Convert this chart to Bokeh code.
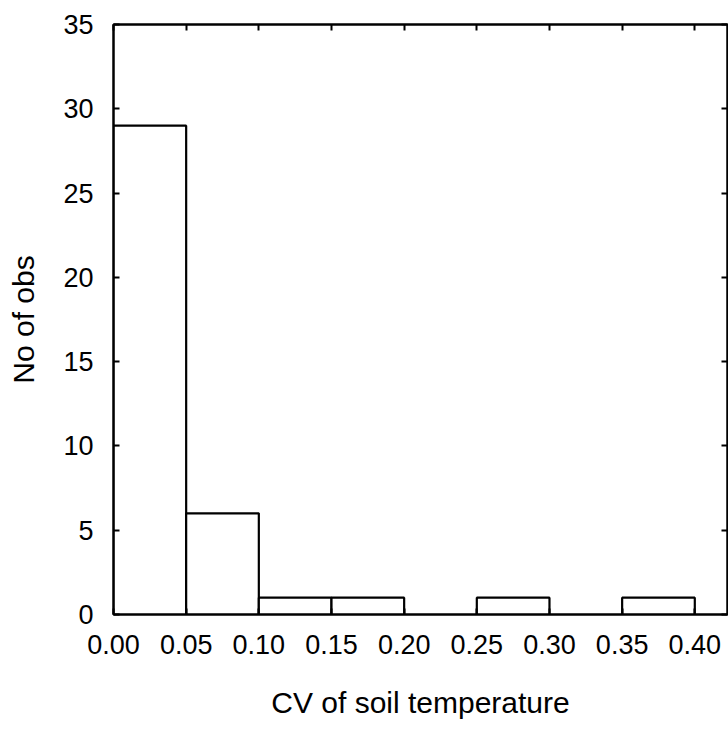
from bokeh.plotting import figure
from bokeh.models import Range1d, FixedTicker, PrintfTickFormatter, LinearAxis, ColumnDataSource
from bokeh.embed import file_html
from bokeh.resources import INLINE

bin_left = [0.00, 0.05, 0.10, 0.15, 0.20, 0.25, 0.30, 0.35]
bin_right = [0.05, 0.10, 0.15, 0.20, 0.25, 0.30, 0.35, 0.40]
counts = [29, 6, 1, 1, 0, 1, 0, 1]
x_ticks = [0.00, 0.05, 0.10, 0.15, 0.20, 0.25, 0.30, 0.35, 0.40]
y_ticks = [0, 5, 10, 15, 20, 25, 30, 35]

FONT = "Liberation Sans"

p = figure(width=728, height=729, output_backend="svg", toolbar_location=None,
           x_range=Range1d(0, 0.4225), y_range=Range1d(0, 35),
           min_border_left=113, min_border_right=1, min_border_top=24, min_border_bottom=115,
           x_axis_label="CV of soil temperature", y_axis_label="No of obs")

src = ColumnDataSource(dict(left=[l for l, c in zip(bin_left, counts) if c > 0],
                            right=[r for r, c in zip(bin_right, counts) if c > 0],
                            top=[c for c in counts if c > 0]))
p.quad(left="left", right="right", bottom=0, top="top", source=src,
       fill_color="white", line_color="black", line_width=2.2)

p.xgrid.visible = False
p.ygrid.visible = False
p.outline_line_color = "black"
p.outline_line_width = 2
p.background_fill_color = "white"
p.border_fill_color = "white"

for ax in p.xaxis:
    ax.ticker = FixedTicker(ticks=x_ticks)
    ax.formatter = PrintfTickFormatter(format="%.2f")
for ax in p.yaxis:
    ax.ticker = FixedTicker(ticks=y_ticks)

for ax in list(p.xaxis) + list(p.yaxis):
    ax.major_tick_in = 6
    ax.major_tick_out = 0
    ax.minor_tick_in = 0
    ax.minor_tick_out = 0
    ax.major_tick_line_width = 2
    ax.major_tick_line_color = "black"
    ax.axis_line_width = 2
    ax.axis_line_color = "black"
    ax.major_label_text_font = FONT
    ax.major_label_text_font_size = "27px"
    ax.major_label_text_color = "black"
    ax.axis_label_text_font = FONT
    ax.axis_label_text_font_size = "30px"
    ax.axis_label_text_font_style = "normal"
    ax.axis_label_text_color = "black"

p.xaxis.major_label_standoff = 20
p.yaxis.major_label_standoff = 20
p.xaxis.axis_label_standoff = 29
p.yaxis.axis_label_standoff = 20

top_ax = LinearAxis(ticker=FixedTicker(ticks=x_ticks), major_label_text_font_size="0px",
                    major_tick_in=6, major_tick_out=0, minor_tick_in=0, minor_tick_out=0,
                    major_tick_line_width=2, axis_line_width=2, major_label_standoff=0)
right_ax = LinearAxis(ticker=FixedTicker(ticks=y_ticks), major_label_text_font_size="0px",
                      major_tick_in=6, major_tick_out=0, minor_tick_in=0, minor_tick_out=0,
                      major_tick_line_width=2, axis_line_width=2, major_label_standoff=0)
top_ax.major_label_text_alpha = 0
right_ax.major_label_text_alpha = 0
p.add_layout(top_ax, "above")
p.add_layout(right_ax, "right")

open("out.html", "w").write(file_html(p, INLINE))
